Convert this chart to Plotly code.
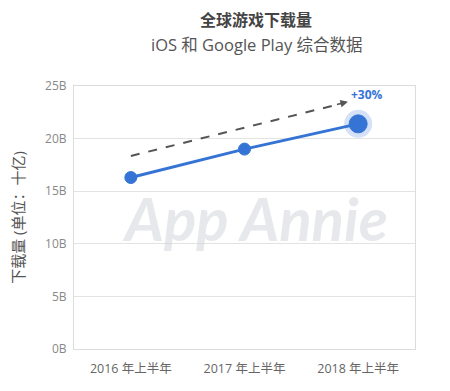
import plotly.graph_objects as go

categories = ["2016 年上半年", "2017 年上半年", "2018 年上半年"]
downloads = [16.3, 19.0, 21.4]
y_ticks = [0, 5, 10, 15, 20, 25]
y_tick_labels = ["0B", "5B", "10B", "15B", "20B", "25B"]
growth_label = "+30%"

BLUE = "#3574d4"
FONT = "Open Sans, Noto Sans CJK SC, sans-serif"
xs = list(range(len(categories)))

fig = go.Figure()

# halo on last point
fig.add_trace(go.Scatter(
    x=[xs[-1]], y=[downloads[-1]], mode="markers",
    marker=dict(size=28, color="rgba(58,120,214,0.22)", line=dict(width=0)),
    hoverinfo="skip", showlegend=False))

fig.add_trace(go.Scatter(
    x=xs, y=downloads, mode="lines+markers",
    line=dict(color=BLUE, width=3),
    marker=dict(size=[12, 12, 18], color=BLUE, opacity=1,
                line=dict(color=BLUE, width=1)),
    showlegend=False))

# dashed trend arrow
fig.add_trace(go.Scatter(
    x=[0.0, 1.86], y=[18.35, 23.35], mode="lines",
    line=dict(color="#555555", width=2, dash="dash"),
    hoverinfo="skip", showlegend=False))

annotations = [
    dict(x=1.91, y=23.5, ax=1.80, ay=23.2, xref="x", yref="y", axref="x", ayref="y",
         text="", showarrow=True, arrowhead=2, arrowsize=1, arrowwidth=1.5,
         arrowcolor="#555555"),
    dict(x=2.08, y=24.2, xref="x", yref="y", text="<b>" + growth_label + "</b>",
         showarrow=False, font=dict(size=12, color=BLUE, family=FONT)),
    dict(x=0.53, y=0.5, xref="paper", yref="paper", text="<b><i>App Annie</i></b>",
         showarrow=False, font=dict(size=60, color="rgba(200,205,210,0.45)", family="Lato, sans-serif")),
    dict(x=(256 - 74) / 341, y=1 + (86 - 20) / 263, xref="paper", yref="paper",
         yanchor="middle", xanchor="center",
         text="<b>全球游戏下载量</b>", showarrow=False,
         font=dict(size=16, color="#444", family=FONT)),
    dict(x=(256 - 74) / 341, y=1 + (86 - 45) / 263, xref="paper", yref="paper",
         yanchor="middle", xanchor="center",
         text="iOS 和 Google Play 综合数据", showarrow=False,
         font=dict(size=16.5, color="#555", family=FONT)),
]

fig.update_layout(
    width=450, height=391,
    margin=dict(l=66, r=43, t=78, b=50, autoexpand=False),
    paper_bgcolor="white", plot_bgcolor="white",
    font=dict(family=FONT, color="#777"),
    annotations=annotations,
    xaxis=dict(range=[-0.5, 2.5], tickvals=xs, ticktext=categories, showgrid=False,
               zeroline=False, showline=True, linecolor="#dcdcdc", linewidth=1, mirror=True,
               ticks="", tickfont=dict(size=12.5, color="#666"), ticklabelstandoff=8),
    yaxis=dict(range=[0, 25], tickvals=y_ticks, ticktext=y_tick_labels,
               showgrid=True, gridcolor="#e3e3e3", gridwidth=1,
               showline=True, linecolor="#dcdcdc", linewidth=1, mirror=True,
               zeroline=False, ticks="", tickfont=dict(size=12, color="#888"),
               ticklabelstandoff=4,
               title=dict(text="下载量 (单位：十亿)", font=dict(size=15, color="#555"), standoff=24)),
)

fig.write_html("out.html")
